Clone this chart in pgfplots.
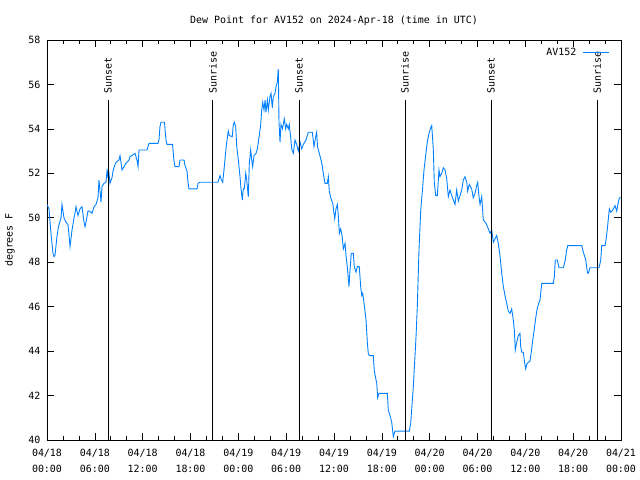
\documentclass[border=0pt]{standalone}
\usepackage{pgfplots}
\pgfplotsset{compat=1.18}
\usepackage{fontspec}
\setmainfont{DejaVu Sans Mono}
\definecolor{gpblue}{RGB}{0,128,255}
\begin{document}
\begin{tikzpicture}
\path[use as bounding box] (-47bp,-40bp) rectangle (593bp,440bp);
\begin{axis}[
  at={(0,0)}, anchor=south west,
  scale only axis, width=574bp, height=400bp,
  xmin=0, xmax=72, ymin=40, ymax=58,
  xtick={0,6,...,72},
  xticklabels={{04/18\\00:00},{04/18\\06:00},{04/18\\12:00},{04/18\\18:00},{04/19\\00:00},{04/19\\06:00},{04/19\\12:00},{04/19\\18:00},{04/20\\00:00},{04/20\\06:00},{04/20\\12:00},{04/20\\18:00},{04/21\\00:00}},
  xticklabel style={align=center, yshift=-6bp, font=\fontsize{10}{16}\selectfont},
  yticklabel style={xshift=-3bp},
  minor x tick num=2,
  ytick={40,42,...,58},
  tick align=inside,
  major tick length=7bp, minor tick length=4bp,
  axis line style={line width=0.8pt},
  every tick/.style={black, line width=0.6pt},
  font=\fontsize{10}{16}\selectfont,
  /pgf/number format/assume math mode=true,
  title={Dew Point for AV152 on 2024-Apr-18 (time in UTC)},
  title style={yshift=5bp},
  ylabel={degrees F},
  every axis y label/.style={at={(rel axis cs:0,0.5)}, rotate=90, anchor=center, yshift=37bp},
  legend style={draw=none, fill=none, at={(rel axis cs:0.985,0.99)}, anchor=north east, font=\fontsize{10}{12}\selectfont, column sep=4bp},
  legend plot pos=right,
  legend cell align=right,
  legend image code/.code={\draw[#1] (0bp,0bp) -- (26bp,0bp);},
]
\addplot[gpblue, line width=0.9pt] table {
x y
0.00 50.6
0.25 50.4
0.50 49.3
0.75 48.4
0.88 48.25
1.00 48.3
1.25 49.15
1.44 49.6
1.76 50.0
1.88 50.6
2.13 50.0
2.38 49.8
2.63 49.7
2.82 49.0
2.89 48.7
3.14 49.45
3.39 50.0
3.51 50.2
3.64 50.5
3.89 50.1
4.14 50.4
4.39 50.5
4.64 49.8
4.77 49.6
4.89 49.8
5.14 50.3
5.33 50.3
5.64 50.2
5.90 50.5
6.15 50.6
6.40 50.9
6.52 51.7
6.71 51.0
6.77 50.7
6.90 51.4
7.15 51.55
7.40 51.6
7.53 52.1
7.65 51.8
7.71 52.2
7.90 51.55
8.15 51.8
8.28 52.1
8.53 52.4
8.66 52.5
9.03 52.6
9.16 52.8
9.28 52.5
9.41 52.15
9.66 52.3
9.91 52.45
10.29 52.6
10.41 52.75
11.04 52.9
11.29 52.6
11.42 52.3
11.54 53.05
12.54 53.05
12.80 53.35
13.92 53.35
14.05 53.5
14.17 54.1
14.30 54.3
14.74 54.3
14.80 54.0
14.93 53.5
15.05 53.3
15.74 53.3
15.81 53.05
15.93 52.55
16.06 52.3
16.56 52.3
16.68 52.6
17.19 52.6
17.31 52.35
17.56 52.1
17.69 51.6
17.81 51.3
18.82 51.3
18.94 51.55
19.19 51.6
21.45 51.6
21.70 51.9
21.83 51.75
22.04 51.6
22.20 52.15
22.45 53.1
22.62 53.6
22.74 53.9
22.87 53.7
23.24 53.65
23.37 54.2
23.50 54.3
23.67 54.1
23.80 53.2
24.00 52.6
24.21 51.85
24.34 51.3
24.50 50.8
24.62 51.3
24.75 51.3
24.93 52.0
25.05 51.7
25.25 50.95
25.38 52.45
25.55 53.05
25.68 52.6
25.80 52.3
25.97 52.8
26.22 52.9
26.38 53.1
26.59 53.6
26.81 54.2
26.93 54.85
27.06 55.2
27.22 54.85
27.35 55.3
27.47 54.75
27.64 55.3
27.76 54.85
27.97 55.45
28.10 55.6
28.26 54.95
28.39 55.45
28.60 55.6
28.73 55.9
28.89 56.1
29.01 56.7
29.06 55.45
29.10 54.3
29.23 53.4
29.35 54.2
29.52 54.0
29.64 54.2
29.77 54.45
29.94 54.0
30.07 54.2
30.27 54.0
30.39 54.2
30.57 53.6
30.70 53.1
30.90 52.9
31.11 53.5
31.32 53.3
31.52 53.0
31.74 53.4
31.95 53.1
32.15 53.3
32.49 53.5
32.78 53.85
33.28 53.85
33.49 53.2
33.71 53.65
33.83 53.85
33.93 53.2
34.16 52.9
34.37 52.6
34.50 52.4
34.66 52.0
34.87 51.55
35.16 51.55
35.29 51.85
35.41 51.2
35.59 50.9
35.84 50.65
36.00 50.2
36.09 49.95
36.25 50.4
36.42 50.6
36.54 50.1
36.67 49.3
36.84 49.5
37.01 49.2
37.17 48.6
37.38 48.85
37.51 48.3
37.72 47.6
37.88 46.9
38.01 47.65
38.17 48.4
38.42 48.4
38.55 47.8
38.76 47.55
38.92 47.8
39.17 47.8
39.35 46.9
39.48 46.5
39.60 46.6
39.77 46.15
40.02 45.4
40.18 44.4
40.30 43.9
40.43 43.8
40.93 43.8
41.06 43.1
41.36 42.55
41.48 41.9
41.65 42.1
42.69 42.1
42.81 41.35
43.03 41.1
43.24 40.8
43.44 40.15
43.65 40.4
45.45 40.4
45.62 40.75
45.95 42.4
46.29 44.65
46.45 46.0
46.66 48.55
46.88 50.35
47.13 51.4
47.29 52.15
47.50 52.8
47.70 53.4
47.92 53.8
48.13 54.05
48.26 54.15
48.46 53.05
48.58 51.6
48.76 51.0
48.96 51.0
49.17 52.15
49.30 51.85
49.51 52.0
49.71 52.25
49.93 52.15
50.14 51.75
50.34 50.95
50.55 51.25
50.77 51.0
50.97 50.8
51.18 50.6
51.39 51.25
51.60 50.75
51.81 51.0
52.02 51.25
52.22 51.7
52.43 51.85
52.65 51.6
52.77 51.2
52.97 51.5
53.27 51.3
53.47 50.9
53.69 51.1
53.90 51.45
54.03 51.6
54.19 50.95
54.32 50.6
54.53 50.95
54.73 49.9
55.07 49.75
55.36 49.5
55.57 49.3
55.78 49.45
55.99 48.9
56.20 49.05
56.41 49.2
56.61 48.85
56.82 48.3
57.04 47.5
57.24 46.9
57.45 46.5
57.66 46.15
57.87 45.8
58.08 45.7
58.29 45.9
58.49 45.4
58.62 44.95
58.74 44.05
58.92 44.4
59.12 44.7
59.33 44.8
59.42 44.2
59.55 43.95
59.75 43.95
59.92 43.45
60.05 43.2
60.17 43.4
60.38 43.5
60.59 43.55
60.80 44.1
60.93 44.5
61.09 44.9
61.25 45.35
61.43 45.8
61.63 46.1
61.84 46.3
62.06 47.05
63.51 47.05
63.64 47.35
63.76 48.1
64.01 48.1
64.23 47.75
64.77 47.75
64.98 48.05
65.19 48.55
65.32 48.75
67.07 48.75
67.28 48.45
67.58 48.1
67.78 47.55
67.90 47.5
68.11 47.75
69.24 47.75
69.46 48.1
69.58 48.75
70.00 48.75
70.12 49.0
70.29 49.5
70.41 49.95
70.54 50.4
70.71 50.25
70.87 50.3
71.04 50.4
71.25 50.55
71.46 50.3
71.67 50.7
71.80 50.9
72.00 50.9
};
\addlegendentry{AV152}
\addplot[black, line width=0.8pt, forget plot] coordinates {(7.65,40) (7.65,55.3)};
\addplot[black, line width=0.8pt, forget plot] coordinates {(20.8,40) (20.8,55.3)};
\addplot[black, line width=0.8pt, forget plot] coordinates {(31.6,40) (31.6,55.3)};
\addplot[black, line width=0.8pt, forget plot] coordinates {(44.9,40) (44.9,55.3)};
\addplot[black, line width=0.8pt, forget plot] coordinates {(55.7,40) (55.7,55.3)};
\addplot[black, line width=0.8pt, forget plot] coordinates {(69.0,40) (69.0,55.3)};
\node[rotate=90, anchor=west, inner sep=0pt, font=\fontsize{10}{12}\selectfont] at (axis cs:7.65,55.6) {Sunset};
\node[rotate=90, anchor=west, inner sep=0pt, font=\fontsize{10}{12}\selectfont] at (axis cs:20.8,55.6) {Sunrise};
\node[rotate=90, anchor=west, inner sep=0pt, font=\fontsize{10}{12}\selectfont] at (axis cs:31.6,55.6) {Sunset};
\node[rotate=90, anchor=west, inner sep=0pt, font=\fontsize{10}{12}\selectfont] at (axis cs:44.9,55.6) {Sunrise};
\node[rotate=90, anchor=west, inner sep=0pt, font=\fontsize{10}{12}\selectfont] at (axis cs:55.7,55.6) {Sunset};
\node[rotate=90, anchor=west, inner sep=0pt, font=\fontsize{10}{12}\selectfont] at (axis cs:69.0,55.6) {Sunrise};
\end{axis}
\end{tikzpicture}
\end{document}
